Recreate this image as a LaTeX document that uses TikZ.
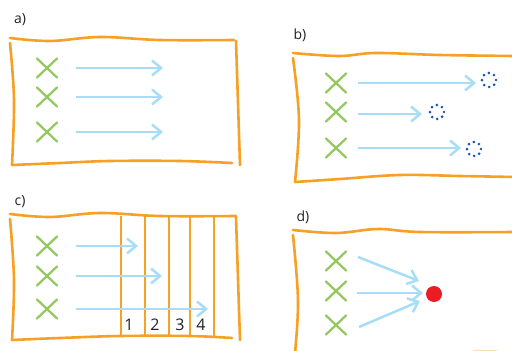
\documentclass[tikz,border=0pt]{standalone}
\usepackage{fontspec}
\setmainfont{Open Sans}
\usetikzlibrary{arrows.meta,shapes.misc}

\definecolor{frame}{RGB}{247,160,38}
\definecolor{ray}{RGB}{168,221,247}
\definecolor{mark}{RGB}{150,200,98}
\definecolor{dotblue}{RGB}{25,85,175}
\definecolor{hit}{RGB}{236,28,36}
\definecolor{ink}{RGB}{35,35,35}

\tikzset{
  edge/.style={draw=frame, line width=2.6pt, line cap=round, line join=round},
  cell/.style={draw=frame, line width=2.4pt},
  src/.style={cross out, draw=mark, line width=2.3pt, line cap=round,
              minimum width=18pt, minimum height=17pt, inner sep=0pt},
  ray/.style={draw=ray, line width=2.5pt,
              -{Straight Barb[length=9pt,width=15pt,line width=2.5pt]}},
  ghost/.style={circle, minimum size=14pt, inner sep=0pt, draw=dotblue,
                line width=2.9pt, line cap=round, dash pattern=on 0pt off 5.5pt},
  dot/.style={circle, fill=hit, minimum size=16pt, inner sep=0pt},
  tag/.style={text=ink, font=\fontsize{14}{14}\selectfont, inner sep=0pt},
  num/.style={text=ink, font=\fontsize{16}{16}\selectfont, inner sep=0pt}
}

\begin{document}
\begin{tikzpicture}[x=1pt,y=-1pt]
\useasboundingbox (0,0) rectangle (512,351);
\fill[white] (0,0) rectangle (512,351);

% ---------------- a) ----------------
\node[tag] (la) at (20,20) {a)};
\draw[edge] plot[smooth, tension=0.6] coordinates {(10,38) (50,41) (100,37) (160,40) (234,40)};
\draw[edge] plot[smooth, tension=0.6] coordinates {(10,43) (14,100) (12,165)};
\draw[edge] plot[smooth, tension=0.6] coordinates {(12,165) (60,163) (110,161) (180,161) (232,163)};
\draw[edge] (236,41) -- (240,165);

\foreach \i/\y in {1/68,2/97,3/132}{
  \node[src] (xa\i) at (47,\y) {};
  \coordinate (sa\i) at (76,\y);
  \coordinate (ea\i) at (163,\y);
  \draw[ray] (sa\i) -- (ea\i);
}

% ---------------- b) ----------------
\node[tag] (lb) at (300,35) {b)};
\draw[edge] plot[smooth, tension=0.6] coordinates {(293,53) (339,56) (376,53) (440,55) (514,56)};
\draw[edge] plot[smooth, tension=0.6] coordinates {(293,58) (299,120) (295,182)};
\draw[edge] plot[smooth, tension=0.6] coordinates {(295,182) (340,179) (400,175) (460,176) (514,177)};

\foreach \i/\y in {1/83,2/112,3/148}{
  \node[src] (xb\i) at (336,\y) {};
}
\node[ghost] (gb1) at (489,80) {};
\node[ghost] (gb2) at (437,112) {};
\node[ghost] (gb3) at (474,149) {};
\coordinate (sb1) at (358,83);
\coordinate (sb2) at (358,114);
\coordinate (sb3) at (358,148);
\draw[ray] (sb1) -- (476,83);
\draw[ray] (sb2) -- (422,114);
\draw[ray] (sb3) -- (461,148);

% ---------------- c) ----------------
\node[tag] (lc) at (20,202) {c)};
\draw[edge] plot[smooth, tension=0.6] coordinates {(10,214) (50,217) (100,213) (160,216) (236,216)};
\draw[edge] plot[smooth, tension=0.6] coordinates {(10,219) (14,280) (12,340)};
\draw[edge] plot[smooth, tension=0.6] coordinates {(12,340) (60,338) (120,336) (190,336) (232,338)};
\draw[edge] (236,217) -- (240,340);

\foreach \x in {121,145,169,190,214}{
  \draw[cell] (\x,216) -- (\x,337);
}
\node[num] (n1) at (129,325) {1};
\node[num] (n2) at (155,325) {2};
\node[num] (n3) at (180,325) {3};
\node[num] (n4) at (201,325) {4};

\foreach \i/\y/\e in {1/246/138,2/276/162,3/309/208}{
  \node[src] (xc\i) at (47,\y) {};
  \coordinate (sc\i) at (76,\y);
  \coordinate (ec\i) at (\e,\y);
  \draw[ray] (sc\i) -- (ec\i);
}

% ---------------- d) ----------------
\node[tag] (ld) at (303,217) {d)};
\draw[edge] plot[smooth, tension=0.6] coordinates {(293,230) (336,233) (378,229) (420,232) (514,232)};
\draw[edge] plot[smooth, tension=0.6] coordinates {(293,235) (298,300) (295,353)};
\draw[frame, line width=2.4pt, opacity=0.35, line cap=round] (474,350.8) -- (496,350.8);

\foreach \i/\y in {1/261,2/291,3/325}{
  \node[src] (xd\i) at (336,\y) {};
}
\node[dot] (hd) at (434,294) {};
\coordinate (sd1) at (358,257);
\coordinate (sd2) at (357,293);
\coordinate (sd3) at (359,327);
\coordinate (ed1) at (419,281);
\coordinate (ed2) at (423,293);
\coordinate (ed3) at (420,301);
\draw[ray] (sd1) -- (ed1);
\draw[ray] (sd2) -- (ed2);
\draw[ray] (sd3) -- (ed3);
\end{tikzpicture}
\end{document}
